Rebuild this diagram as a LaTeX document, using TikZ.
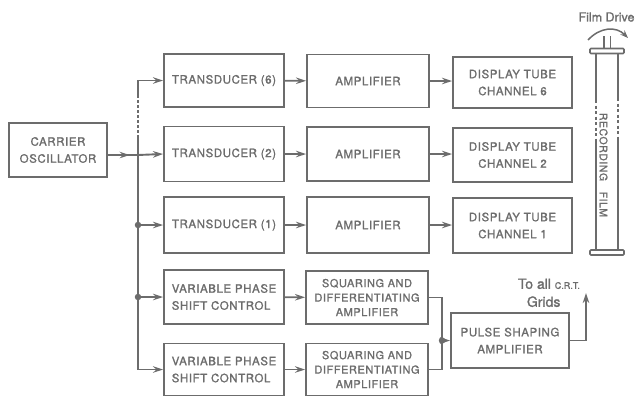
\documentclass[tikz,border=0pt]{standalone}
\usepackage{fontspec}
\setmainfont{TeX Gyre Heros}[LetterSpace=5, FakeBold=1.3]
\newfontfamily\handfont{TeX Gyre Heros}[FakeBold=1.3]
\usetikzlibrary{arrows.meta,decorations.markings}

\definecolor{ink}{RGB}{108,108,108}

\begin{document}
\begin{tikzpicture}[
    x=1pt, y=-1pt,
    ink, line width=1.9pt,
    every node/.style={text=ink},
    block/.style={
        rectangle,
        draw,
        line width=1.9pt,
        inner sep=0pt,
        align=center,
        font=\fontsize{11.5}{17}\selectfont
    },
    tall/.style={
        font=\fontsize{11}{14.5}\selectfont
    },
    line/.style={
        draw, -{Stealth[length=10pt,width=6.5pt]}
    },
    midarrow/.style={
        postaction={decorate},
        decoration={markings, mark=at position #1 with {\arrow{Stealth[length=10pt,width=6.5pt]}}}
    },
    dot/.style={
        circle, fill=ink, inner sep=0pt, minimum size=6.5pt
    }
]
\useasboundingbox (0,0) rectangle (636,397);

% Nodes
\node [block, minimum width=98pt, minimum height=54pt] (osc) at (58,150) {CARRIER\\OSCILLATOR};

\node [block, minimum width=120pt, minimum height=53pt] (tr6) at (224,80.5) {TRANSDUCER (6)};
\node [block, minimum width=120pt, minimum height=55pt] (tr2) at (224,154) {TRANSDUCER (2)};
\node [block, minimum width=120pt, minimum height=56pt] (tr1) at (224,225) {TRANSDUCER (1)};
\node [block, minimum width=120pt, minimum height=54pt, align=left] (vps1) at (224,297) {VARIABLE PHASE\\SHIFT CONTROL};
\node [block, minimum width=120pt, minimum height=52pt, align=left] (vps2) at (224,369.5) {VARIABLE PHASE\\SHIFT CONTROL};

\node [block, minimum width=122pt, minimum height=53pt] (amp6) at (368,81) {AMPLIFIER};
\node [block, minimum width=122pt, minimum height=54pt] (amp2) at (368,154) {AMPLIFIER};
\node [block, minimum width=122pt, minimum height=56pt] (amp1) at (368,225) {AMPLIFIER};
\node [block, tall, minimum width=122pt, minimum height=53pt] (sq1) at (367,297.5) {SQUARING AND\\DIFFERENTIATING\\AMPLIFIER};
\node [block, tall, minimum width=122pt, minimum height=52pt] (sq2) at (367,369.5) {SQUARING AND\\DIFFERENTIATING\\AMPLIFIER};

\node [block, minimum width=119pt, minimum height=51pt] (dt6) at (512.5,82.5) {DISPLAY TUBE\\CHANNEL 6};
\node [block, minimum width=119pt, minimum height=54pt] (dt2) at (512.5,155) {DISPLAY TUBE\\CHANNEL 2};
\node [block, minimum width=119pt, minimum height=55pt] (dt1) at (512.5,225.5) {DISPLAY TUBE\\CHANNEL 1};

\node [block, minimum width=118pt, minimum height=55pt] (psa) at (510,340.5) {PULSE SHAPING\\AMPLIFIER};

% Feed bus
\coordinate (split) at (138,155);
\coordinate (dashA) at (138,95);
\coordinate (dashB) at (138,135);
\coordinate (tap1) at (138,225);
\coordinate (tap2) at (138,297);

\draw [midarrow=0.72] (osc.east |- split) -- (split);
\draw [line] (dashA) |- (tr6.west);
\draw [dash pattern=on 3pt off 2pt] (dashA) -- (dashB);
\draw [line] (dashB) |- (vps2.west);
\draw [line] (split) -- (tr2.west);
\draw [line] (tap1) -- (tr1.west);
\draw [line] (tap2) -- (vps1.west);
\node [dot] at (tap1) {};
\node [dot] at (tap2) {};

% Channels
\draw [line] (tr6) -- (amp6);
\draw [line] (tr2) -- (amp2);
\draw [line] (tr1) -- (amp1);
\draw [line] (vps1) -- (sq1);
\draw [line] (vps2) -- (sq2);
\draw [line] (amp6) -- (dt6.west |- amp6);
\draw [line] (amp2) -- (dt2.west |- amp2);
\draw [line] (amp1) -- (dt1.west |- amp1);

% Pulse shaping
\coordinate (join) at (442,340.5);
\coordinate (grids) at (586,293);
\draw (sq1.east) -| (join) |- (sq2.east);
\draw [line] (join) -- (psa.west);
\node [dot] at (join) {};
\draw [line] (psa.east) -| (grids);
\node [anchor=south west, align=left, font=\handfont\fontsize{14}{18}\selectfont, inner sep=1pt] (gridtxt) at (516,309)
    {To all {\fontsize{9}{10}\selectfont C.R.T.}\\\hspace{9pt}Grids};

% Recording film
\coordinate (filmtopL) at (596,53);
\coordinate (filmtopR) at (618,53);
\coordinate (filmbotL) at (596,250);
\coordinate (filmbotR) at (618,250);
\draw (filmtopL) -- (596,100);
\draw [dash pattern=on 3pt off 2.5pt] (596,100) -- (596,140);
\draw (596,140) -- (filmbotL);
\draw (filmtopR) -- (618,98);
\draw [dash pattern=on 3pt off 2.5pt] (618,98) -- (618,140);
\draw (618,140) -- (filmbotR);
\draw [line width=1.6pt, rounded corners=1pt] (590,48.5) rectangle (624,53.5);
\draw [line width=1.6pt, rounded corners=1pt] (590,250) rectangle (624,255);
\draw (604,36) -- (604,48.5);
\draw (610.5,36) -- (610.5,48.5);
\draw [-{Stealth[length=8pt,width=6pt]}, line width=1.5pt] (588,40) .. controls (600,27) and (616,26) .. (628,38);
\node [font=\handfont\fontsize{12.5}{15}\selectfont] (drive) at (606.5,17) {Film Drive};
\node [rotate=-90, font=\fontsize{10.5}{12}\selectfont] (filmtxt) at (603.5,165) {RECORDING\quad FILM};

\end{tikzpicture}
\end{document}
